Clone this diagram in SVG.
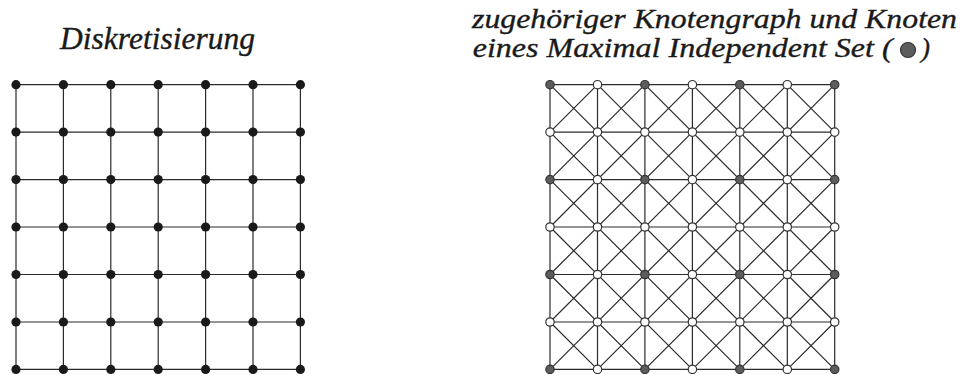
<svg xmlns="http://www.w3.org/2000/svg" width="962" height="374" viewBox="0 0 962 374">
<style>
.e{stroke:#2b2b2b;stroke-width:1.2;fill:none}
.b{fill:#1a1a1a}
.w{fill:#fff;stroke:#333;stroke-width:1.2}
.g{fill:#5c5c5c;stroke:#333;stroke-width:1.2}
text{font-family:"Liberation Serif","Times New Roman",Times,serif;font-style:italic;fill:#1a1a1a;stroke:#1a1a1a;stroke-width:0.35}
</style>
<rect width="962" height="374" fill="#fff"/>
<g id="labels">
<text x="60" y="49" style="font-size:31px" textLength="195" lengthAdjust="spacingAndGlyphs">Diskretisierung</text>
<text x="472" y="27.5" style="font-size:27px" textLength="485" lengthAdjust="spacingAndGlyphs">zugehöriger Knotengraph und Knoten</text>
<text x="472.7" y="57.3" style="font-size:27px" textLength="420" lengthAdjust="spacingAndGlyphs">eines Maximal Independent Set (</text>
<circle cx="908" cy="50" r="7.5" class="g"/>
<text x="921" y="57.3" style="font-size:27px">)</text>
</g>
<g id="connectors" class="e">
<path d="M16 84.7H300.4M16 132.1H300.4M16 179.6H300.4M16 227H300.4M16 274.5H300.4M16 322H300.4M16 369.4H300.4M16 84.7V369.4M63.4 84.7V369.4M110.8 84.7V369.4M158.2 84.7V369.4M205.6 84.7V369.4M253 84.7V369.4M300.4 84.7V369.4"/>
<path d="M550 84.7H834.7M550 132.1H834.7M550 179.6H834.7M550 227H834.7M550 274.5H834.7M550 322H834.7M550 369.4H834.7M550 84.7V369.4M597.5 84.7V369.4M644.9 84.7V369.4M692.4 84.7V369.4M739.8 84.7V369.4M787.3 84.7V369.4M834.7 84.7V369.4"/>
<path d="M550 84.7L834.7 369.4M597.5 84.7L834.7 322M644.9 84.7L834.7 274.5M692.4 84.7L834.7 227M739.8 84.7L834.7 179.6M787.3 84.7L834.7 132.1M550 132.1L787.3 369.4M550 179.6L739.8 369.4M550 227L692.4 369.4M550 274.5L644.9 369.4M550 322L597.5 369.4"/>
<path d="M550 132.1L597.5 84.7M550 179.6L644.9 84.7M550 227L692.4 84.7M550 274.5L739.8 84.7M550 322L787.3 84.7M550 369.4L834.7 84.7M597.5 369.4L834.7 132.1M644.9 369.4L834.7 179.6M692.4 369.4L834.7 227M739.8 369.4L834.7 274.5M787.3 369.4L834.7 322"/>
</g>
<g id="left-nodes">
<g id="L00"><circle class="b" cx="16" cy="84.7" r="4.6"/></g><g id="L01"><circle class="b" cx="63.4" cy="84.7" r="4.6"/></g><g id="L02"><circle class="b" cx="110.8" cy="84.7" r="4.6"/></g><g id="L03"><circle class="b" cx="158.2" cy="84.7" r="4.6"/></g><g id="L04"><circle class="b" cx="205.6" cy="84.7" r="4.6"/></g><g id="L05"><circle class="b" cx="253" cy="84.7" r="4.6"/></g><g id="L06"><circle class="b" cx="300.4" cy="84.7" r="4.6"/></g>
<g id="L10"><circle class="b" cx="16" cy="132.1" r="4.6"/></g><g id="L11"><circle class="b" cx="63.4" cy="132.1" r="4.6"/></g><g id="L12"><circle class="b" cx="110.8" cy="132.1" r="4.6"/></g><g id="L13"><circle class="b" cx="158.2" cy="132.1" r="4.6"/></g><g id="L14"><circle class="b" cx="205.6" cy="132.1" r="4.6"/></g><g id="L15"><circle class="b" cx="253" cy="132.1" r="4.6"/></g><g id="L16"><circle class="b" cx="300.4" cy="132.1" r="4.6"/></g>
<g id="L20"><circle class="b" cx="16" cy="179.6" r="4.6"/></g><g id="L21"><circle class="b" cx="63.4" cy="179.6" r="4.6"/></g><g id="L22"><circle class="b" cx="110.8" cy="179.6" r="4.6"/></g><g id="L23"><circle class="b" cx="158.2" cy="179.6" r="4.6"/></g><g id="L24"><circle class="b" cx="205.6" cy="179.6" r="4.6"/></g><g id="L25"><circle class="b" cx="253" cy="179.6" r="4.6"/></g><g id="L26"><circle class="b" cx="300.4" cy="179.6" r="4.6"/></g>
<g id="L30"><circle class="b" cx="16" cy="227" r="4.6"/></g><g id="L31"><circle class="b" cx="63.4" cy="227" r="4.6"/></g><g id="L32"><circle class="b" cx="110.8" cy="227" r="4.6"/></g><g id="L33"><circle class="b" cx="158.2" cy="227" r="4.6"/></g><g id="L34"><circle class="b" cx="205.6" cy="227" r="4.6"/></g><g id="L35"><circle class="b" cx="253" cy="227" r="4.6"/></g><g id="L36"><circle class="b" cx="300.4" cy="227" r="4.6"/></g>
<g id="L40"><circle class="b" cx="16" cy="274.5" r="4.6"/></g><g id="L41"><circle class="b" cx="63.4" cy="274.5" r="4.6"/></g><g id="L42"><circle class="b" cx="110.8" cy="274.5" r="4.6"/></g><g id="L43"><circle class="b" cx="158.2" cy="274.5" r="4.6"/></g><g id="L44"><circle class="b" cx="205.6" cy="274.5" r="4.6"/></g><g id="L45"><circle class="b" cx="253" cy="274.5" r="4.6"/></g><g id="L46"><circle class="b" cx="300.4" cy="274.5" r="4.6"/></g>
<g id="L50"><circle class="b" cx="16" cy="322" r="4.6"/></g><g id="L51"><circle class="b" cx="63.4" cy="322" r="4.6"/></g><g id="L52"><circle class="b" cx="110.8" cy="322" r="4.6"/></g><g id="L53"><circle class="b" cx="158.2" cy="322" r="4.6"/></g><g id="L54"><circle class="b" cx="205.6" cy="322" r="4.6"/></g><g id="L55"><circle class="b" cx="253" cy="322" r="4.6"/></g><g id="L56"><circle class="b" cx="300.4" cy="322" r="4.6"/></g>
<g id="L60"><circle class="b" cx="16" cy="369.4" r="4.6"/></g><g id="L61"><circle class="b" cx="63.4" cy="369.4" r="4.6"/></g><g id="L62"><circle class="b" cx="110.8" cy="369.4" r="4.6"/></g><g id="L63"><circle class="b" cx="158.2" cy="369.4" r="4.6"/></g><g id="L64"><circle class="b" cx="205.6" cy="369.4" r="4.6"/></g><g id="L65"><circle class="b" cx="253" cy="369.4" r="4.6"/></g><g id="L66"><circle class="b" cx="300.4" cy="369.4" r="4.6"/></g>
</g>
<g id="right-nodes">
<g id="R00"><circle class="g" cx="550" cy="84.7" r="4.2"/></g><g id="R01"><circle class="w" cx="597.5" cy="84.7" r="4.2"/></g><g id="R02"><circle class="g" cx="644.9" cy="84.7" r="4.2"/></g><g id="R03"><circle class="w" cx="692.4" cy="84.7" r="4.2"/></g><g id="R04"><circle class="g" cx="739.8" cy="84.7" r="4.2"/></g><g id="R05"><circle class="w" cx="787.3" cy="84.7" r="4.2"/></g><g id="R06"><circle class="g" cx="834.7" cy="84.7" r="4.2"/></g>
<g id="R10"><circle class="w" cx="550" cy="132.1" r="4.2"/></g><g id="R11"><circle class="w" cx="597.5" cy="132.1" r="4.2"/></g><g id="R12"><circle class="w" cx="644.9" cy="132.1" r="4.2"/></g><g id="R13"><circle class="w" cx="692.4" cy="132.1" r="4.2"/></g><g id="R14"><circle class="w" cx="739.8" cy="132.1" r="4.2"/></g><g id="R15"><circle class="w" cx="787.3" cy="132.1" r="4.2"/></g><g id="R16"><circle class="w" cx="834.7" cy="132.1" r="4.2"/></g>
<g id="R20"><circle class="g" cx="550" cy="179.6" r="4.2"/></g><g id="R21"><circle class="w" cx="597.5" cy="179.6" r="4.2"/></g><g id="R22"><circle class="g" cx="644.9" cy="179.6" r="4.2"/></g><g id="R23"><circle class="w" cx="692.4" cy="179.6" r="4.2"/></g><g id="R24"><circle class="g" cx="739.8" cy="179.6" r="4.2"/></g><g id="R25"><circle class="w" cx="787.3" cy="179.6" r="4.2"/></g><g id="R26"><circle class="g" cx="834.7" cy="179.6" r="4.2"/></g>
<g id="R30"><circle class="w" cx="550" cy="227" r="4.2"/></g><g id="R31"><circle class="w" cx="597.5" cy="227" r="4.2"/></g><g id="R32"><circle class="w" cx="644.9" cy="227" r="4.2"/></g><g id="R33"><circle class="w" cx="692.4" cy="227" r="4.2"/></g><g id="R34"><circle class="w" cx="739.8" cy="227" r="4.2"/></g><g id="R35"><circle class="w" cx="787.3" cy="227" r="4.2"/></g><g id="R36"><circle class="w" cx="834.7" cy="227" r="4.2"/></g>
<g id="R40"><circle class="g" cx="550" cy="274.5" r="4.2"/></g><g id="R41"><circle class="w" cx="597.5" cy="274.5" r="4.2"/></g><g id="R42"><circle class="g" cx="644.9" cy="274.5" r="4.2"/></g><g id="R43"><circle class="w" cx="692.4" cy="274.5" r="4.2"/></g><g id="R44"><circle class="g" cx="739.8" cy="274.5" r="4.2"/></g><g id="R45"><circle class="w" cx="787.3" cy="274.5" r="4.2"/></g><g id="R46"><circle class="g" cx="834.7" cy="274.5" r="4.2"/></g>
<g id="R50"><circle class="w" cx="550" cy="322" r="4.2"/></g><g id="R51"><circle class="w" cx="597.5" cy="322" r="4.2"/></g><g id="R52"><circle class="w" cx="644.9" cy="322" r="4.2"/></g><g id="R53"><circle class="w" cx="692.4" cy="322" r="4.2"/></g><g id="R54"><circle class="w" cx="739.8" cy="322" r="4.2"/></g><g id="R55"><circle class="w" cx="787.3" cy="322" r="4.2"/></g><g id="R56"><circle class="w" cx="834.7" cy="322" r="4.2"/></g>
<g id="R60"><circle class="g" cx="550" cy="369.4" r="4.2"/></g><g id="R61"><circle class="w" cx="597.5" cy="369.4" r="4.2"/></g><g id="R62"><circle class="g" cx="644.9" cy="369.4" r="4.2"/></g><g id="R63"><circle class="w" cx="692.4" cy="369.4" r="4.2"/></g><g id="R64"><circle class="g" cx="739.8" cy="369.4" r="4.2"/></g><g id="R65"><circle class="w" cx="787.3" cy="369.4" r="4.2"/></g><g id="R66"><circle class="g" cx="834.7" cy="369.4" r="4.2"/></g>
</g>
</svg>
